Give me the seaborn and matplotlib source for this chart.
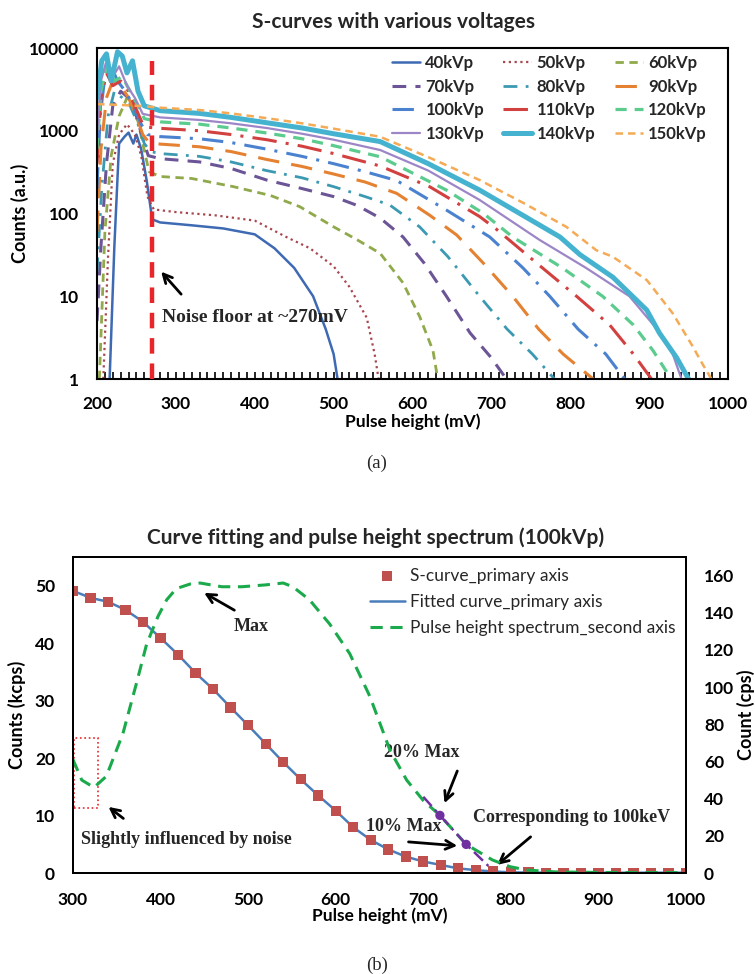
import matplotlib
matplotlib.use("Agg")
import matplotlib.pyplot as plt
import seaborn as sns
from matplotlib.patches import Rectangle

# ---- data: (a) S-curves, pulse height (mV) vs counts (a.u.) ----
mv_40 = [216, 222, 228, 235, 240, 246, 250, 256, 263, 270, 280, 320, 360, 400, 425, 450, 474, 490, 500, 505]
cnt_40 = [1, 40, 700, 850, 950, 700, 900, 600, 250, 85, 78, 72, 66, 56, 38, 22, 10, 4, 2, 1]

mv_50 = [208, 214, 220, 228, 238, 248, 256, 264, 272, 300, 350, 400, 440, 470, 500, 520, 542, 552, 557]
cnt_50 = [1, 30, 400, 900, 1200, 900, 500, 160, 112, 104, 95, 82, 52, 38, 23, 13, 5.5, 2, 1]

mv_60 = [203, 210, 218, 228, 238, 245, 252, 258, 266, 280, 320, 373, 420, 457, 500, 530, 559, 588, 609, 626, 632]
cnt_60 = [1, 60, 500, 1500, 2500, 1800, 1300, 700, 320, 280, 265, 211, 165, 121, 69, 48, 33, 14.5, 5.7, 2.2, 1]

mv_70 = [200, 205, 212, 220, 230, 240, 250, 258, 265, 280, 330, 370, 415, 460, 500, 530, 559, 588, 615, 643, 673, 700, 719]
cnt_70 = [5, 40, 400, 2000, 3000, 2500, 1500, 800, 500, 460, 420, 350, 254, 200, 160, 125, 88, 52, 25, 10, 3.6, 1.8, 1]

mv_80 = [200, 206, 214, 222, 232, 242, 252, 260, 268, 280, 330, 370, 415, 460, 500, 540, 571, 609, 645, 685, 720, 752, 780]
cnt_80 = [20, 200, 1500, 3000, 2500, 2000, 1200, 700, 560, 530, 490, 420, 330, 270, 211, 160, 127, 69, 30, 10, 4, 2, 1]

mv_90 = [200, 205, 212, 220, 230, 240, 250, 258, 266, 280, 330, 370, 415, 460, 500, 540, 580, 622, 656, 690, 727, 760, 791, 829]
cnt_90 = [60, 600, 2500, 4000, 3500, 2500, 1500, 900, 720, 690, 640, 560, 450, 370, 300, 240, 175, 95, 55, 25, 10, 4, 2, 1]

mv_100 = [200, 204, 210, 218, 226, 236, 246, 256, 264, 280, 330, 370, 415, 460, 500, 540, 580, 643, 698, 740, 774, 810, 845, 869]
cnt_100 = [200, 1500, 4500, 6000, 4000, 3000, 2000, 1200, 900, 850, 800, 720, 600, 490, 400, 320, 250, 110, 52, 22, 10, 4, 2, 1]

mv_110 = [200, 205, 212, 220, 230, 240, 250, 258, 265, 280, 330, 370, 415, 460, 500, 559, 622, 685, 706, 760, 808, 850, 880, 903]
cnt_110 = [400, 2500, 5000, 3500, 4000, 3000, 1800, 1200, 1100, 1070, 1000, 900, 780, 650, 530, 375, 210, 92, 65, 24, 10, 4.5, 2, 1]

mv_120 = [200, 205, 212, 222, 232, 242, 252, 260, 280, 330, 370, 415, 460, 500, 559, 643, 690, 727, 790, 841, 880, 905, 928]
cnt_120 = [600, 3000, 6000, 4000, 4500, 3000, 2000, 1400, 1280, 1200, 1080, 940, 800, 660, 485, 192, 100, 52, 22, 10, 4.5, 2.2, 1]

mv_130 = [200, 205, 212, 220, 228, 238, 248, 258, 280, 330, 370, 415, 460, 500, 559, 620, 685, 761, 820, 875, 910, 930, 941]
cnt_130 = [900, 4000, 7000, 4500, 6000, 3500, 2500, 1600, 1450, 1350, 1230, 1080, 920, 780, 585, 330, 146, 48, 22, 10, 4, 2, 1]

mv_140 = [200, 206, 212, 218, 226, 232, 238, 245, 252, 260, 280, 330, 370, 415, 460, 500, 559, 620, 685, 740, 787, 812, 854, 897, 913, 935, 950]
cnt_140 = [2500, 7000, 8500, 4000, 9000, 8000, 5000, 7000, 3000, 2000, 1750, 1620, 1450, 1250, 1080, 920, 740, 400, 192, 95, 52, 32, 17, 6.8, 3.6, 1.8, 1]

mv_150 = [200, 230, 260, 280, 330, 370, 415, 460, 500, 559, 620, 685, 740, 795, 833, 854, 897, 930, 955, 968, 979]
cnt_150 = [2100, 2050, 1980, 1900, 1780, 1620, 1420, 1230, 1060, 846, 480, 254, 135, 69, 36, 30, 15.7, 6.2, 2.5, 1.5, 1]

kvp_labels = ["40kVp", "50kVp", "60kVp", "70kVp", "80kVp", "90kVp",
              "100kVp", "110kVp", "120kVp", "130kVp", "140kVp", "150kVp"]
noise_floor_mv = 270

# ---- data: (b) 100kVp fit and spectrum ----
scurve_mv = [300, 320, 340, 360, 380, 400, 420, 440, 460, 480, 500, 520, 540, 560, 580, 600, 620, 640,
             660, 680, 700, 720, 740, 760, 780, 800, 820, 840, 860, 880, 900, 920, 940, 960, 980, 1000]
scurve_kcps = [49.1, 47.9, 47.2, 45.8, 43.7, 40.9, 38.0, 34.8, 32.0, 28.8, 25.7, 22.5, 19.3, 16.3, 13.5, 10.85, 7.96, 5.75,
               4.1, 2.85, 2.0, 1.4, 0.8, 0.5, 0.25, 0.12, 0.08, 0.06, 0.05, 0.05, 0.05, 0.05, 0.05, 0.05, 0.05, 0.05]

spec_mv = [300, 310, 324, 338, 357, 373, 384, 397, 407, 418, 434, 445, 470, 493, 520, 540, 551, 570,
           593, 616, 639, 662, 681, 700, 719, 749, 779, 799, 818, 850, 900, 1000]
spec_cps = [61, 50, 46, 52, 75, 103, 123, 138, 147, 153, 155.5, 156, 154, 154, 155, 156, 154, 147,
            134, 118, 95, 66, 50, 39, 31, 15.4, 7, 3.4, 1.6, 0.6, 0.3, 0.2]

pct_mv = [700, 719, 749, 776]
pct_cps = [41, 31, 15.4, 3]
pct_marked_mv = [719, 749]
pct_marked_cps = [31, 15.4]

# ---- styles ----
curve_styles = [
    ("#3E6AB3", "-", 1.8),
    ("#A8464E", (0, (1, 1.6)), 1.6),
    ("#8FA94B", (0, (3, 2)), 2.0),
    ("#6B5596", (0, (4.5, 3)), 2.2),
    ("#3B9AB2", (0, (5, 3, 1, 3)), 2.0),
    ("#E58232", (0, (7, 4)), 2.2),
    ("#4B82CF", (0, (7, 3, 1, 3)), 2.2),
    ("#D2413F", (0, (8, 3, 1, 3)), 2.2),
    ("#5CCB8E", (0, (3.5, 2.5)), 2.3),
    ("#9D86C7", "-", 1.6),
    ("#45B3D0", "-", 3.6),
    ("#F5AA55", (0, (3, 2)), 1.8),
]

sns.set_theme(style="white")
plt.rcParams["font.family"] = ["Lato", "DejaVu Sans"]
serif = ["Liberation Serif", "DejaVu Serif"]

fig = plt.figure(figsize=(7.55, 9.74), dpi=100)

# ================= (a) =================
ax1 = fig.add_axes([97 / 755, 1 - 379 / 974, 631 / 755, 331 / 974])
series = [(mv_40, cnt_40), (mv_50, cnt_50), (mv_60, cnt_60), (mv_70, cnt_70),
          (mv_80, cnt_80), (mv_90, cnt_90), (mv_100, cnt_100), (mv_110, cnt_110),
          (mv_120, cnt_120), (mv_130, cnt_130), (mv_140, cnt_140), (mv_150, cnt_150)]
for (xs, ys), lab, (col, ls, lw) in zip(series, kvp_labels, curve_styles):
    sns.lineplot(x=xs, y=ys, ax=ax1, color=col, linestyle=ls, linewidth=lw, label=lab)

ax1.vlines(noise_floor_mv, 1, 7000, colors="#E8262A", linestyles=(0, (3.5, 2.2)), linewidth=3.2, zorder=5)

ax1.set_yscale("log")
ax1.set_ylim(1, 10000)
ax1.set_xlim(200, 1000)
ax1.set_yticks([1, 10, 100, 1000, 10000])
ax1.set_yticklabels(["1", "10", "100", "1000", "10000"])
ax1.minorticks_off()
ax1.set_xticks(range(200, 1001, 100))
ax1.set_xticks(range(200, 1001, 10), minor=True)
ax1.tick_params(axis="x", which="both", direction="in", bottom=True, length=5, width=1.2, color="black")
ax1.tick_params(axis="x", which="major", pad=12)
ax1.tick_params(axis="y", which="both", left=False, length=0, pad=13)
for lbl in ax1.get_xticklabels() + ax1.get_yticklabels():
    lbl.set_fontweight("bold")
    lbl.set_fontsize(12.5)
    lbl.set_color("black")
for sp in ax1.spines.values():
    sp.set_color("black")
    sp.set_linewidth(1.5)
ax1.set_xlabel("Pulse height (mV)", fontsize=12.5, fontweight="bold", color="black", labelpad=1)
ax1.set_ylabel("Counts (a.u.)", fontsize=13, fontweight="bold", color="black", labelpad=0)

handles, labels = ax1.get_legend_handles_labels()
order = [i for c in range(3) for i in range(c, 12, 3)]
ax1.legend([handles[i] for i in order], [labels[i] for i in order], ncol=3,
           loc="upper right", bbox_to_anchor=(0.99, 1.024), frameon=False,
           prop={"weight": "bold", "size": 12}, handlelength=1.7,
           columnspacing=1.15, labelspacing=0.45, handletextpad=0.3)

ax1.annotate("", xy=(279, 21), xytext=(309, 10),
             arrowprops=dict(arrowstyle="->", color="black", lw=2, mutation_scale=16))
ax1.text(283, 5.6, "Noise floor at ~270mV", fontsize=14, fontweight="bold",
         family=serif, va="center", ha="left")

fig.text(393 / 755, 1 - 22 / 974, "S-curves with various voltages", ha="center", va="center",
         fontsize=15, fontweight="bold")
fig.text(377 / 755, 1 - 463 / 974, "(a)", ha="center", va="center", fontsize=13.5, family=serif)

# ================= (b) =================
ax2 = fig.add_axes([73 / 755, 1 - 873 / 974, 613 / 755, 316 / 974])
ax2b = ax2.twinx()

sns.lineplot(x=scurve_mv, y=scurve_kcps, ax=ax2, color="#4A7EBB", linewidth=1.8,
             label="Fitted curve_primary axis", zorder=2)
sns.scatterplot(x=scurve_mv, y=scurve_kcps, ax=ax2, marker="s", s=55, color="#C0504D",
                edgecolor="none", label="S-curve_primary axis", zorder=3)
sns.lineplot(x=spec_mv, y=spec_cps, ax=ax2b, color="#1BAA4B", linewidth=2.2,
             linestyle=(0, (4, 2.5)), label="Pulse height spectrum_second axis")
sns.lineplot(x=pct_mv, y=pct_cps, ax=ax2b, color="#7030A0", linewidth=1.8,
             linestyle=(0, (5, 2, 1, 2)), zorder=4)
sns.scatterplot(x=pct_marked_mv, y=pct_marked_cps, ax=ax2b, color="#7030A0", marker="o",
                s=45, edgecolor="none", zorder=5)

ax2.set_xlim(300, 1000)
ax2.set_ylim(0, 55)
ax2b.set_ylim(0, 170)
ax2.set_xticks(range(300, 1001, 100))
ax2.set_yticks(range(0, 51, 10))
ax2b.set_yticks(range(0, 161, 20))
ax2.tick_params(axis="x", length=0, pad=14)
ax2.tick_params(axis="y", length=0, pad=13)
ax2b.tick_params(axis="y", length=0, pad=13)
for lbl in ax2.get_xticklabels() + ax2.get_yticklabels() + ax2b.get_yticklabels():
    lbl.set_fontweight("bold")
    lbl.set_fontsize(12.5)
    lbl.set_color("black")
for a in (ax2, ax2b):
    for sp in a.spines.values():
        sp.set_color("black")
        sp.set_linewidth(1.4)
ax2.set_xlabel("Pulse height (mV)", fontsize=12.5, fontweight="bold", color="black", labelpad=-1)
ax2.set_ylabel("Counts (kcps)", fontsize=13, fontweight="bold", color="black", labelpad=6)
ax2b.set_ylabel("Count (cps)", fontsize=13, fontweight="bold", color="black", labelpad=2)

if ax2.get_legend():
    ax2.get_legend().remove()
h_a, l_a = ax2.get_legend_handles_labels()
h_b, l_b = ax2b.get_legend_handles_labels()
hmap = dict(zip(l_a + l_b, h_a + h_b))
leg_order = ["S-curve_primary axis", "Fitted curve_primary axis", "Pulse height spectrum_second axis"]
ax2b.legend([hmap[k] for k in leg_order], leg_order, loc="upper right",
            bbox_to_anchor=(1.008, 1.016), frameon=False, prop={"size": 12.5},
            handlelength=2.0, labelspacing=0.6, handletextpad=0.3)

arrow = dict(arrowstyle="->", color="black", lw=2, mutation_scale=16)
ax2.annotate("", xy=(447, 49.0), xytext=(487, 45.5), arrowprops=arrow)
ax2.text(503, 42.9, "Max", fontsize=13, fontweight="bold", family=serif, ha="center", va="center")
ax2.annotate("", xy=(338, 11.8), xytext=(360, 9.2), arrowprops=arrow)
ax2.text(309, 5.9, "Slightly influenced by noise", fontsize=13, fontweight="bold", family=serif,
         ha="left", va="center")
ax2.annotate("", xy=(723, 11.7), xytext=(740, 18.2), arrowprops=arrow)
ax2.text(698, 20.9, "20% Max", fontsize=13, fontweight="bold", family=serif, ha="center", va="center")
ax2.annotate("", xy=(742, 4.7), xytext=(680, 5.45), arrowprops=arrow)
ax2.text(678, 8.1, "10% Max", fontsize=13, fontweight="bold", family=serif, ha="center", va="center")
ax2.annotate("", xy=(782, 1.1), xytext=(825, 6.6), arrowprops=arrow)
ax2.text(869, 9.6, "Corresponding to 100keV", fontsize=13, fontweight="bold", family=serif,
         ha="center", va="center")
ax2.add_patch(Rectangle((301, 11.4), 28, 12.1, fill=False, edgecolor="#E8262A",
                        linestyle=":", linewidth=1.2, clip_on=False, zorder=6))

fig.text(376 / 755, 1 - 538 / 974, "Curve fitting and pulse height spectrum (100kVp)",
         ha="center", va="center", fontsize=15, fontweight="bold")
fig.text(377 / 755, 1 - 965 / 974, "(b)", ha="center", va="center", fontsize=13.5, family=serif)

fig.savefig("out.png", dpi=100)
